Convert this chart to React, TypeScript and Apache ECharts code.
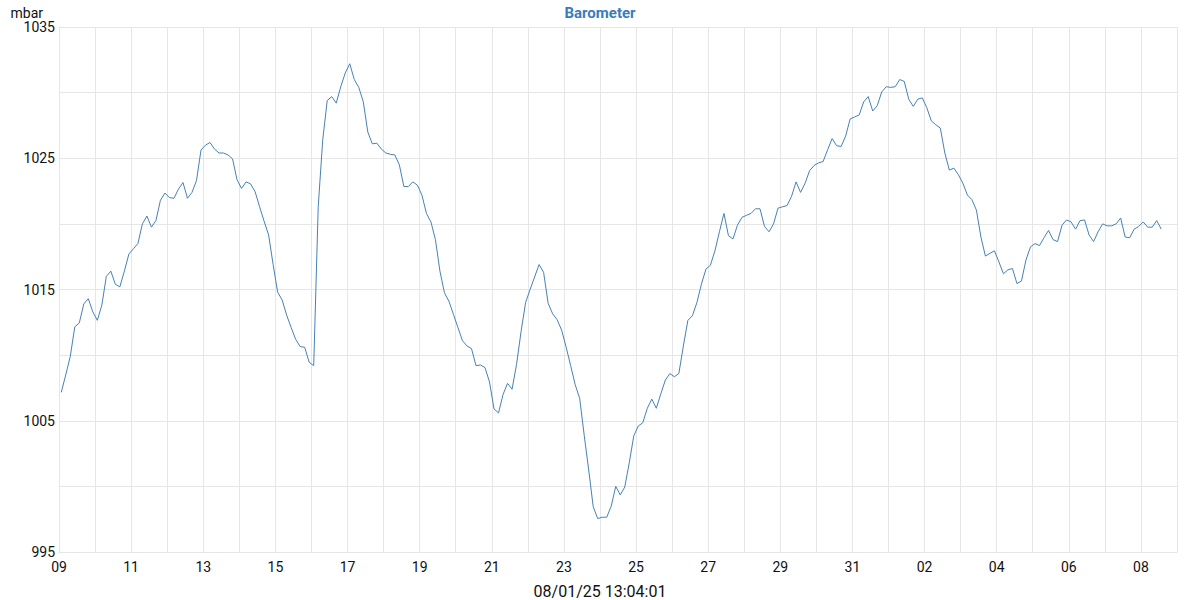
import React, { useEffect, useRef } from "react";
import * as echarts from "echarts";

// Barometer readings (mbar), one every 3 hours starting 9 July ~01:30
const START_HOUR = 1.5;
const STEP_HOURS = 3;
const pressure: number[] = [
  1007.16, 1008.5, 1009.9, 1012.15, 1012.45, 1013.9, 1014.3, 1013.3, 1012.65, 1013.8,
  1016.0, 1016.4, 1015.4, 1015.2, 1016.4, 1017.7, 1018.1, 1018.5, 1020.0, 1020.6,
  1019.75, 1020.25, 1021.8, 1022.35, 1022.0, 1021.95, 1022.65, 1023.15, 1021.95, 1022.4,
  1023.3, 1025.63, 1026.0, 1026.2, 1025.7, 1025.4, 1025.4, 1025.25, 1024.95, 1023.35,
  1022.7, 1023.2, 1023.05, 1022.45, 1021.3, 1020.2, 1019.15, 1016.9, 1014.8, 1014.2,
  1013.05, 1012.1, 1011.2, 1010.65, 1010.6, 1009.45, 1009.2, 1021.3, 1026.4, 1029.4,
  1029.7, 1029.2, 1030.45, 1031.5, 1032.2, 1031.0, 1030.4, 1029.3, 1027.0, 1026.1,
  1026.15, 1025.7, 1025.4, 1025.3, 1025.25, 1024.5, 1022.85, 1022.85, 1023.2, 1022.95,
  1022.2, 1020.8, 1020.15, 1018.8, 1016.4, 1014.75, 1014.1, 1013.1, 1012.1, 1011.1,
  1010.7, 1010.5, 1009.2, 1009.25, 1009.05, 1007.95, 1005.9, 1005.6, 1007.0, 1007.85,
  1007.4, 1009.3, 1011.8, 1014.0, 1015.0, 1015.95, 1016.9, 1016.3, 1013.95, 1013.15,
  1012.7, 1011.9, 1010.6, 1009.2, 1007.75, 1006.7, 1003.9, 1001.25, 998.45, 997.55,
  997.65, 997.65, 998.5, 1000.0, 999.35, 999.95, 1001.8, 1003.85, 1004.6, 1004.85,
  1005.95, 1006.65, 1005.95, 1007.05, 1008.1, 1008.6, 1008.35, 1008.6, 1010.7, 1012.65,
  1013.0, 1014.0, 1015.4, 1016.55, 1016.85, 1017.95, 1019.4, 1020.8, 1019.1, 1018.85,
  1019.9, 1020.5, 1020.65, 1020.8, 1021.15, 1021.15, 1019.8, 1019.4, 1020.0, 1021.2,
  1021.3, 1021.4, 1022.1, 1023.2, 1022.4, 1023.1, 1024.05, 1024.45, 1024.65, 1024.75,
  1025.65, 1026.5, 1025.95, 1025.9, 1026.7, 1028.0, 1028.15, 1028.3, 1029.3, 1029.7,
  1028.6, 1029.0, 1030.05, 1030.45, 1030.4, 1030.45, 1031.0, 1030.85, 1029.5, 1028.95,
  1029.5, 1029.6, 1028.85, 1027.85, 1027.55, 1027.3, 1025.4, 1024.1, 1024.25, 1023.75,
  1023.1, 1022.2, 1021.85, 1021.05, 1019.0, 1017.55, 1017.75, 1017.95, 1017.1, 1016.2,
  1016.5, 1016.6, 1015.45, 1015.65, 1017.25, 1018.25, 1018.5, 1018.35, 1018.95, 1019.5,
  1018.8, 1018.65, 1019.9, 1020.3, 1020.15, 1019.6, 1020.25, 1020.3, 1019.15, 1018.65,
  1019.4, 1020.0, 1019.85, 1019.85, 1020.0, 1020.45, 1019.0, 1018.95, 1019.6, 1019.8,
  1020.15, 1019.75, 1019.75, 1020.25, 1019.6,
];

// x axis: days since 9 July 2025 00:00
const AXIS_START = new Date(2025, 6, 9);
const AXIS_DAYS = 31;
const Y_MIN = 995;
const Y_MAX = 1035;
const TITLE = "Barometer";
const UNIT = "mbar";
const X_NAME = "08/01/25 13:04:01";

export default function App() {
  const ref = useRef<HTMLDivElement>(null);
  useEffect(() => {
    document.body.style.margin = "0";
    const chart = echarts.init(ref.current!, null, { renderer: "svg" });
    const data = pressure.map((v, i) => [(START_HOUR + i * STEP_HOURS) / 24, v]);
    const font = "Roboto";
    chart.setOption({
      animation: false,
      title: {
        text: TITLE,
        left: "center",
        top: 0,
        textStyle: { color: "#3a7bbd", fontSize: 15, fontWeight: "bold", fontFamily: font },
      },
      grid: { left: 59, right: 23, top: 27, bottom: 48, outerBoundsMode: "none", containLabel: false },
      xAxis: {
        type: "value",
        min: 0,
        max: AXIS_DAYS,
        interval: 1,
        name: X_NAME,
        nameLocation: "middle",
        nameGap: 31,
        nameTextStyle: { color: "#111", fontSize: 16, fontFamily: font, padding: [0, 36, 0, 0] },
        axisLine: { show: true, lineStyle: { color: "#e6e6e6" } },
        axisTick: { show: false },
        axisLabel: {
          color: "#111",
          fontSize: 14,
          fontFamily: font,
          margin: 8,
          formatter: (v: number) => {
            if (Math.round(v) % 2 !== 0) return "";
            const d = new Date(AXIS_START.getTime() + Math.round(v) * 86400000);
            return String(d.getDate()).padStart(2, "0");
          },
        },
        splitLine: { show: true, lineStyle: { color: "#e6e6e6" } },
      },
      yAxis: {
        type: "value",
        min: Y_MIN,
        max: Y_MAX,
        interval: 5,
        name: UNIT,
        nameLocation: "end",
        nameGap: 7,
        nameTextStyle: { color: "#111", fontSize: 14, fontFamily: font, align: "right", padding: [0, 16, 0, 0] },
        axisLine: { show: true, lineStyle: { color: "#e6e6e6" } },
        axisTick: { show: false },
        axisLabel: {
          color: "#111",
          fontSize: 14,
          fontFamily: font,
          margin: 4,
          formatter: (v: number) => ((v - Y_MIN) % 10 === 0 ? String(v) : ""),
        },
        splitLine: { show: true, lineStyle: { color: "#e6e6e6" } },
      },
      series: [
        {
          type: "line",
          data,
          showSymbol: false,
          symbol: "none",
          lineStyle: { color: "#4682b4", width: 1 },
          itemStyle: { color: "#4682b4" },
        },
      ],
    });
    return () => chart.dispose();
  }, []);
  return <div ref={ref} style={{ width: 1200, height: 600 }} />;
}
